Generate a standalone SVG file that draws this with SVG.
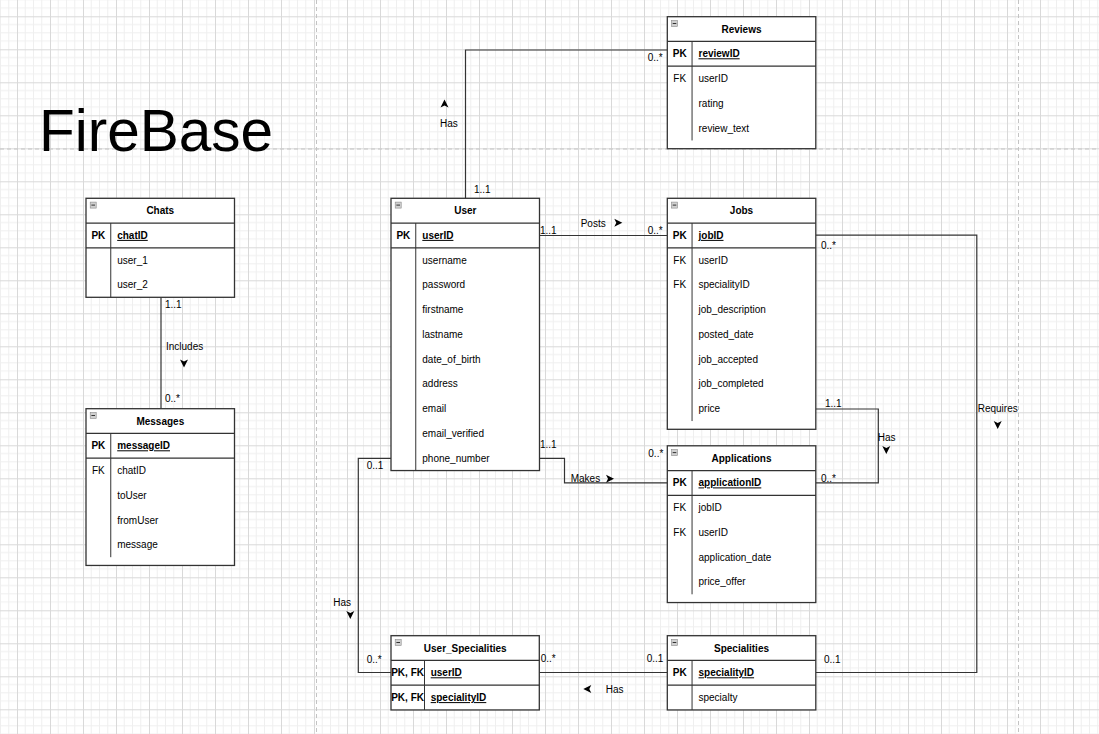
<svg xmlns="http://www.w3.org/2000/svg" xmlns:xlink="http://www.w3.org/1999/xlink" width="1099" height="734" viewBox="0 0 1099 734">
<style>
text{font-family:"Liberation Sans",Arial,sans-serif;font-size:10px;fill:#000}
.h{font-weight:bold;text-anchor:middle}
.k{font-weight:bold;text-anchor:middle}
.fk{text-anchor:middle}
.pn{font-weight:bold;text-decoration:underline}
.t{fill:#fff;stroke:#333;stroke-width:1.3}
.ln{fill:none;stroke:#333;stroke-width:1.3}
.cl{fill:none;stroke:#333;stroke-width:1}
.ed{fill:none;stroke:#333;stroke-width:1.2}
.ic{fill:#d0d0d0;stroke:#8a8a8a;stroke-width:0.6}
.big{font-size:58.5px}
</style>
<defs>
<pattern id="grid" x="17" y="16.3" width="33" height="33" patternUnits="userSpaceOnUse">
<path d="M8.25 0V33M16.5 0V33M24.75 0V33M0 8.25H33M0 16.5H33M0 24.75H33" stroke="#efefef" stroke-width="1" fill="none"/>
<path d="M0.5 0V33M0 0.5H33" stroke="#d9d9d9" stroke-width="1" fill="none"/>
</pattern>
<path id="arw" d="M-4,-4 L4,0 L-4,4 L-2,0 Z" fill="#000"/>
<g id="mi"><rect class="ic" x="0" y="0" width="6" height="6"/><path d="M1.2 3H4.8" stroke="#333" stroke-width="1"/></g>
</defs>
<rect width="1099" height="734" fill="#fff"/>
<rect width="1099" height="734" fill="url(#grid)"/>
<g stroke="#c4c4c4" stroke-width="1" stroke-dasharray="4,3" fill="none">
<path d="M316.5 0V734M1018.5 0V734M0 149H1099"/>
</g>
<text class="big" x="39" y="150.5">FireBase</text>

<g id="connectors">
<path class="ed" d="M465.5 198.3V50H667.3"/>
<path class="ed" d="M539.5 235.5H667.3"/>
<path class="ed" d="M539.5 458.3H564.5V482.8H667.3"/>
<path class="ed" d="M815.8 409H878.3V482.8H815.8"/>
<path class="ed" d="M815.8 235.2H976.8V672.5H815.8"/>
<path class="ed" d="M391 458.3H358.3V672.5H391"/>
<path class="ed" d="M539.3 672.5H667.3"/>
<path class="ed" d="M161 297.3V408.7"/>
<text x="440" y="127.3">Has</text><use href="#arw" transform="translate(444.5,103.5) rotate(-90)"/>
<text x="474" y="193">1..1</text>
<text x="647.7" y="61">0..*</text>
<text x="580.7" y="226.7">Posts</text><use href="#arw" transform="translate(618.3,222.7)"/>
<text x="540" y="233.8">1..1</text>
<text x="647.7" y="233.8">0..*</text>
<text x="540" y="448.3">1..1</text>
<text x="570.7" y="481.5">Makes</text><use href="#arw" transform="translate(610,478.7)"/>
<text x="648.3" y="457.3">0..*</text>
<text x="825" y="407.3">1..1</text>
<text x="877.7" y="440.5">Has</text><use href="#arw" transform="translate(886.3,450) rotate(90)"/>
<text x="821" y="481.5">0..*</text>
<text x="821" y="249">0..*</text>
<text x="977.7" y="412">Requires</text><use href="#arw" transform="translate(997.7,425) rotate(90)"/>
<text x="824" y="662.5">0..1</text>
<text x="366.7" y="469">0..1</text>
<text x="333.3" y="605.5">Has</text><use href="#arw" transform="translate(350.3,615) rotate(90)"/>
<text x="366.7" y="663">0..*</text>
<text x="540.7" y="662.3">0..*</text>
<text x="646.7" y="662.3">0..1</text>
<text x="605.7" y="693">Has</text><use href="#arw" transform="translate(587.3,689) rotate(180)"/>
<text x="165" y="308">1..1</text>
<text x="166" y="349.5">Includes</text><use href="#arw" transform="translate(184,363.5) rotate(90)"/>
<text x="165" y="401.5">0..*</text>
</g>

<g id="reviews">
<rect class="t" x="667.3" y="16.7" width="148.5" height="132"/>
<use href="#mi" x="671.5" y="20.5"/>
<text class="h" x="741.5" y="32.6">Reviews</text>
<path class="ln" d="M667.3 41.45H815.8M667.3 66.2H815.8"/>
<path class="cl" d="M692.05 41.45V140.45"/>
<text class="k" x="679.7" y="57.3">PK</text><text class="pn" x="698.5" y="57.3">reviewID</text>
<text class="fk" x="679.7" y="82.1">FK</text><text x="698.5" y="82.1">userID</text>
<text x="698.5" y="106.8">rating</text>
<text x="698.5" y="131.6">review_text</text>
</g>

<g id="chats">
<rect class="t" x="86" y="198.3" width="148.5" height="99"/>
<use href="#mi" x="90.2" y="202.1"/>
<text class="h" x="160.3" y="214.3">Chats</text>
<path class="ln" d="M86 223.05H234.5M86 247.8H234.5"/>
<path class="cl" d="M110.75 223.05V297.3"/>
<text class="k" x="98.4" y="238.9">PK</text><text class="pn" x="117.2" y="238.9">chatID</text>
<text x="117.2" y="263.7">user_1</text>
<text x="117.2" y="288.4">user_2</text>
</g>

<g id="messages">
<rect class="t" x="86" y="408.7" width="148.5" height="156.75"/>
<use href="#mi" x="90.2" y="412.5"/>
<text class="h" x="160.3" y="424.6">Messages</text>
<path class="ln" d="M86 433.45H234.5M86 458.2H234.5"/>
<path class="cl" d="M110.75 433.45V557.2"/>
<text class="k" x="98.4" y="449.3">PK</text><text class="pn" x="117.2" y="449.3">messageID</text>
<text class="fk" x="98.4" y="474.1">FK</text><text x="117.2" y="474.1">chatID</text>
<text x="117.2" y="498.8">toUser</text>
<text x="117.2" y="523.6">fromUser</text>
<text x="117.2" y="548.3">message</text>
</g>

<g id="user">
<rect class="t" x="391" y="198.3" width="148.5" height="272.25"/>
<use href="#mi" x="395.2" y="202.1"/>
<text class="h" x="465.3" y="214.3">User</text>
<path class="ln" d="M391 223.05H539.5M391 247.8H539.5"/>
<path class="cl" d="M415.75 223.05V470.55"/>
<text class="k" x="403.4" y="238.9">PK</text><text class="pn" x="422.3" y="238.9">userID</text>
<text x="422.3" y="263.7">username</text>
<text x="422.3" y="288.4">password</text>
<text x="422.3" y="313.2">firstname</text>
<text x="422.3" y="337.9">lastname</text>
<text x="422.3" y="362.7">date_of_birth</text>
<text x="422.3" y="387.4">address</text>
<text x="422.3" y="412.2">email</text>
<text x="422.3" y="436.9">email_verified</text>
<text x="422.3" y="461.7">phone_number</text>
</g>

<g id="jobs">
<rect class="t" x="667.3" y="198.3" width="148.5" height="231"/>
<use href="#mi" x="671.5" y="202.1"/>
<text class="h" x="741.5" y="214.3">Jobs</text>
<path class="ln" d="M667.3 223.05H815.8M667.3 247.8H815.8"/>
<path class="cl" d="M692.05 223.05V421.05"/>
<text class="k" x="679.7" y="238.9">PK</text><text class="pn" x="698.5" y="238.9">jobID</text>
<text class="fk" x="679.7" y="263.7">FK</text><text x="698.5" y="263.7">userID</text>
<text class="fk" x="679.7" y="288.4">FK</text><text x="698.5" y="288.4">specialityID</text>
<text x="698.5" y="313.2">job_description</text>
<text x="698.5" y="337.9">posted_date</text>
<text x="698.5" y="362.7">job_accepted</text>
<text x="698.5" y="387.4">job_completed</text>
<text x="698.5" y="412.2">price</text>
</g>

<g id="applications">
<rect class="t" x="667.3" y="445.8" width="148.5" height="156.75"/>
<use href="#mi" x="671.5" y="449.6"/>
<text class="h" x="741.5" y="461.8">Applications</text>
<path class="ln" d="M667.3 470.55H815.8M667.3 495.3H815.8"/>
<path class="cl" d="M692.05 470.55V594.3"/>
<text class="k" x="679.7" y="486.4">PK</text><text class="pn" x="698.5" y="486.4">applicationID</text>
<text class="fk" x="679.7" y="511.2">FK</text><text x="698.5" y="511.2">jobID</text>
<text class="fk" x="679.7" y="535.9">FK</text><text x="698.5" y="535.9">userID</text>
<text x="698.5" y="560.7">application_date</text>
<text x="698.5" y="585.4">price_offer</text>
</g>

<g id="user_specialities">
<rect class="t" x="391" y="635.7" width="148.3" height="74.25"/>
<use href="#mi" x="395.2" y="639.5"/>
<text class="h" x="465.2" y="651.7">User_Specialities</text>
<path class="ln" d="M391 660.45H539.3M391 685.2H539.3"/>
<path class="cl" d="M424.5 660.45V709.95"/>
<text class="k" x="407.6" y="676.3">PK, FK</text><text class="pn" x="430.7" y="676.3">userID</text>
<text class="k" x="407.6" y="701.1">PK, FK</text><text class="pn" x="430.7" y="701.1">specialityID</text>
</g>

<g id="specialities">
<rect class="t" x="667.3" y="635.7" width="148.5" height="74.25"/>
<use href="#mi" x="671.5" y="639.5"/>
<text class="h" x="741.5" y="651.7">Specialities</text>
<path class="ln" d="M667.3 660.45H815.8M667.3 685.2H815.8"/>
<path class="cl" d="M692.05 660.45V709.95"/>
<text class="k" x="679.7" y="676.3">PK</text><text class="pn" x="698.5" y="676.3">specialityID</text>
<text x="698.5" y="701.1">specialty</text>
</g>
</svg>
